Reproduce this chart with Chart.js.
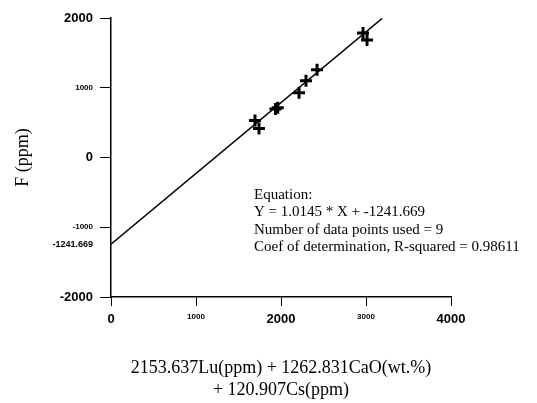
<!DOCTYPE html>
<html>
<head>
<meta charset="utf-8">
<script src="https://cdn.jsdelivr.net/npm/chart.js@4.4.1/dist/chart.umd.min.js"></script>
<style>
  html, body { margin: 0; padding: 0; background: #fff; }
  #wrap { width: 537px; height: 403px; }
</style>
</head>
<body>
<div id="wrap"><canvas id="regChart"></canvas></div>
<script>
// measured samples (x = combined Lu/CaO/Cs expression, y = F ppm)
const sampleX = [1694, 1741, 1935, 1962, 2212, 2294, 2424, 2965, 3012];
const sampleY = [529, 414, 695, 712, 929, 1100, 1257, 1786, 1686];

// fitted line end points
const fitX = [0, 3190];
const fitY = [-1241.669, 1994];

const xTicks = [0, 1000, 2000, 3000, 4000];
const yTicks = [-2000, -1241.669, -1000, 0, 1000, 2000];
const yTickText = { '-2000': '-2000', '-1241.669': '-1241.669', '-1000': '-1000', '0': '0', '1000': '1000', '2000': '2000' };

const equationLines = [
    'Equation:',
    'Y = 1.0145 * X + -1241.669',
    'Number of data points used = 9',
    'Coef of determination, R-squared = 0.98611'
];

const bigFont = { family: 'Arial, "Liberation Sans", sans-serif', size: 13, weight: 'bold' };
const smallFont = { family: 'Arial, "Liberation Sans", sans-serif', size: 8, weight: 'bold' };

// draws the fit summary inside the plot
const equationText = {
    id: 'equationText',
    afterDraw(chart) {
        const ctx = chart.ctx;
        ctx.save();
        ctx.fillStyle = '#000';
        ctx.font = '15px "Liberation Serif", "Times New Roman", serif';
        ctx.textBaseline = 'middle';
        equationLines.forEach((line, i) => {
            ctx.fillText(line, 254, 195 + i * 17.5);
        });
        ctx.restore();
    }
};

new Chart(document.getElementById('regChart'), {
    type: 'scatter',
    data: {
        datasets: [
            {
                label: 'samples',
                data: sampleX.map((x, i) => ({ x: x, y: sampleY[i] })),
                pointStyle: 'cross',
                pointRadius: 6,
                borderWidth: 3,
                borderColor: '#000',
                backgroundColor: '#000'
            },
            {
                label: 'fit',
                type: 'line',
                data: fitX.map((x, i) => ({ x: x, y: fitY[i] })),
                borderColor: '#000',
                borderWidth: 1.5,
                pointRadius: 0,
                fill: false
            }
        ]
    },
    options: {
        responsive: true,
        maintainAspectRatio: false,
        animation: false,
        layout: { padding: { left: 12, right: 86, top: 18, bottom: 2 } },
        plugins: {
            legend: { display: false },
            tooltip: { enabled: false }
        },
        scales: {
            x: {
                type: 'linear',
                min: 0,
                max: 4000,
                afterBuildTicks: scale => { scale.ticks = xTicks.map(v => ({ value: v })); },
                afterFit: scale => { scale.height = 403 - 297 - 2; },
                border: { display: true, color: '#000', width: 1.5 },
                grid: { drawOnChartArea: false, drawTicks: true, tickLength: 9, tickColor: '#000', lineWidth: 1 },
                ticks: {
                    color: '#000',
                    maxRotation: 0,
                    padding: 6,
                    font: c => (c.tick && c.tick.value % 2000 === 0) ? bigFont : smallFont,
                    callback: v => String(v)
                },
                title: {
                    display: true,
                    text: ['2153.637Lu(ppm) + 1262.831CaO(wt.%)', '+ 120.907Cs(ppm)'],
                    color: '#000',
                    font: { family: '"Liberation Serif", "Times New Roman", serif', size: 18 },
                    padding: { top: 16, bottom: 0 }
                }
            },
            y: {
                type: 'linear',
                min: -2000,
                max: 2000,
                afterBuildTicks: scale => { scale.ticks = yTicks.map(v => ({ value: v })); },
                afterFit: scale => { scale.width = 111 - 12; },
                border: { display: true, color: '#000', width: 1.5 },
                grid: {
                    drawOnChartArea: false,
                    drawTicks: true,
                    tickLength: 11,
                    lineWidth: 1,
                    tickColor: c => (c.tick && c.tick.value === -1241.669) ? 'rgba(0,0,0,0)' : '#000'
                },
                ticks: {
                    color: '#000',
                    padding: 7,
                    autoSkip: false,
                    font: c => {
                        if (!c.tick) return smallFont;
                        if (c.tick.value === -1241.669) return { family: bigFont.family, size: 9, weight: 'bold' };
                        return c.tick.value % 2000 === 0 ? bigFont : smallFont;
                    },
                    callback: v => yTickText[String(v)] || ''
                },
                title: {
                    display: true,
                    text: 'F (ppm)',
                    color: '#000',
                    font: { family: '"Liberation Serif", "Times New Roman", serif', size: 18 },
                    padding: { top: 0, bottom: 0 }
                }
            }
        }
    },
    plugins: [equationText]
});
</script>
</body>
</html>
